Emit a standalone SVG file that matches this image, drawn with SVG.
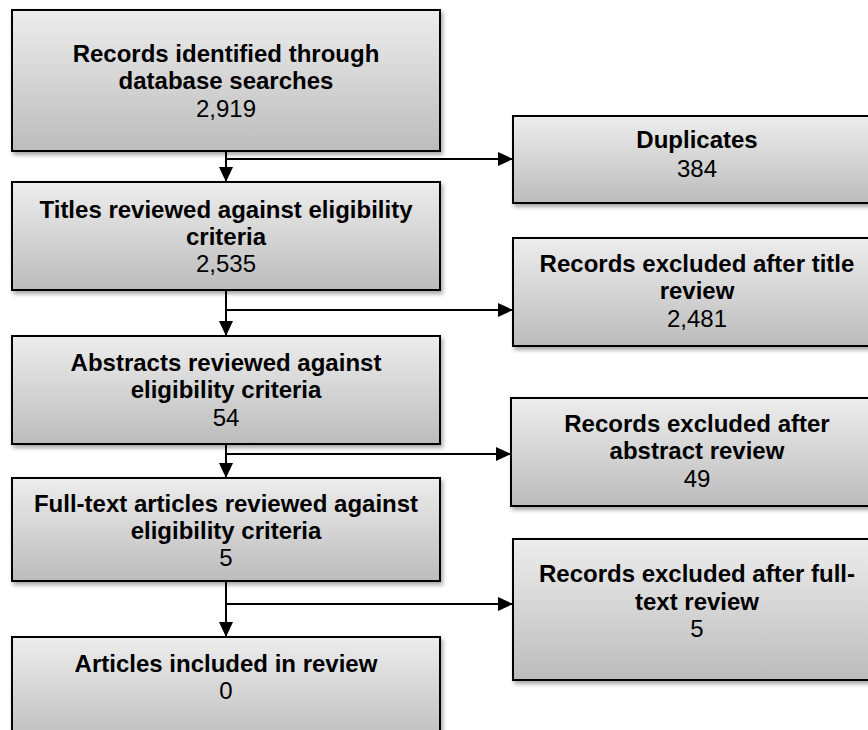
<svg xmlns="http://www.w3.org/2000/svg" width="868" height="730" viewBox="0 0 868 730">
<defs>
<linearGradient id="g" x1="0" y1="0" x2="0" y2="1">
<stop offset="0" stop-color="#ededed"/>
<stop offset="1" stop-color="#bcbcbc"/>
</linearGradient>
<filter id="sh" x="-5%" y="-5%" width="115%" height="125%">
<feDropShadow dx="2" dy="3" stdDeviation="2" flood-color="#000" flood-opacity="0.35"/>
</filter>
<marker id="ah" viewBox="0 0 15 14" refX="15" refY="7" markerWidth="15" markerHeight="14" markerUnits="userSpaceOnUse" orient="auto">
<path d="M0,0 L15,7 L0,14 Z" fill="#000"/>
</marker>
<style>
.box{fill:url(#g);stroke:#000;stroke-width:2;filter:url(#sh)}
.t{font-family:"Liberation Sans",Arial,sans-serif;font-size:24px;text-anchor:middle;fill:#000}
.b{font-weight:bold}
.c{fill:none;stroke:#000;stroke-width:2}
</style>
</defs>
<rect width="868" height="730" fill="#fff"/>
<g id="connectors">
<path class="c" d="M226,151 V182" marker-end="url(#ah)"/>
<path class="c" d="M226,159 H513" marker-end="url(#ah)"/>
<path class="c" d="M226,290 V336" marker-end="url(#ah)"/>
<path class="c" d="M226,310 H513" marker-end="url(#ah)"/>
<path class="c" d="M226,444 V478" marker-end="url(#ah)"/>
<path class="c" d="M226,454 H511" marker-end="url(#ah)"/>
<path class="c" d="M226,581 V637" marker-end="url(#ah)"/>
<path class="c" d="M226,604 H513" marker-end="url(#ah)"/>
</g>
<g id="n1">
<rect class="box" x="12" y="10" width="428" height="141"/>
<text class="t b" x="226" y="62">Records identified through</text>
<text class="t b" x="226" y="89">database searches</text>
<text class="t" x="226" y="117">2,919</text>
</g>
<g id="n2">
<rect class="box" x="12" y="182" width="428" height="108"/>
<text class="t b" x="226" y="218">Titles reviewed against eligibility</text>
<text class="t b" x="226" y="245">criteria</text>
<text class="t" x="226" y="272">2,535</text>
</g>
<g id="n3">
<rect class="box" x="12" y="336" width="428" height="108"/>
<text class="t b" x="226" y="371">Abstracts reviewed against</text>
<text class="t b" x="226" y="398">eligibility criteria</text>
<text class="t" x="226" y="426">54</text>
</g>
<g id="n4">
<rect class="box" x="12" y="478" width="428" height="103"/>
<text class="t b" x="226" y="512">Full-text articles reviewed against</text>
<text class="t b" x="226" y="539">eligibility criteria</text>
<text class="t" x="226" y="566">5</text>
</g>
<g id="n5">
<rect class="box" x="12" y="637" width="428" height="110"/>
<text class="t b" x="226" y="672">Articles included in review</text>
<text class="t" x="226" y="699">0</text>
</g>
<g id="r1">
<rect class="box" x="513" y="116" width="370" height="87"/>
<text class="t b" x="697" y="148">Duplicates</text>
<text class="t" x="697" y="177">384</text>
</g>
<g id="r2">
<rect class="box" x="513" y="238" width="370" height="108"/>
<text class="t b" x="697" y="272">Records excluded after title</text>
<text class="t b" x="697" y="299">review</text>
<text class="t" x="697" y="327">2,481</text>
</g>
<g id="r3">
<rect class="box" x="511" y="398" width="372" height="108"/>
<text class="t b" x="697" y="432">Records excluded after</text>
<text class="t b" x="697" y="459">abstract review</text>
<text class="t" x="697" y="487">49</text>
</g>
<g id="r4">
<rect class="box" x="513" y="539" width="370" height="141"/>
<text class="t b" x="697" y="582">Records excluded after full-</text>
<text class="t b" x="697" y="610">text review</text>
<text class="t" x="697" y="637">5</text>
</g>
</svg>
